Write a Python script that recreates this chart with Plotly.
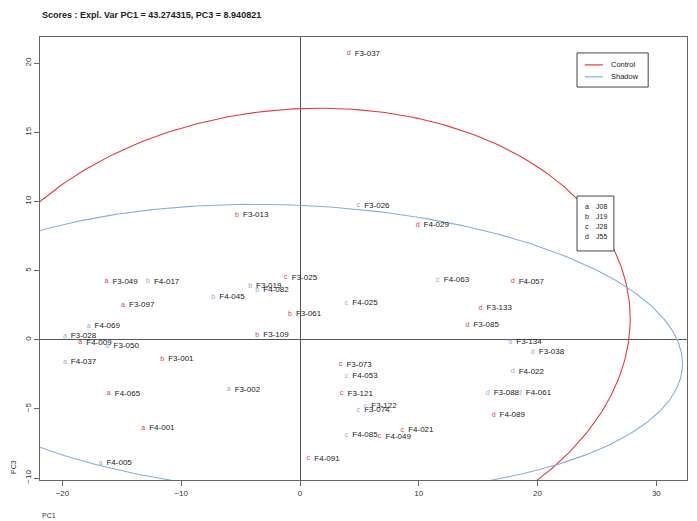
import numpy as np
import plotly.graph_objects as go

# ---- data ----
names = ["F3-037", "F3-013", "F3-026", "F4-029", "F3-049", "F4-017", "F3-097", "F4-045",
         "F3-019", "F4-082", "F3-025", "F3-061", "F3-109", "F4-069", "F3-028", "F4-009",
         "F3-050", "F4-037", "F3-001", "F3-002", "F4-065", "F4-001", "F4-005", "F4-091",
         "F4-063", "F4-057", "F4-025", "F3-133", "F3-085", "F3-134", "F3-038", "F4-022",
         "F3-088", "F4-061", "F4-089", "F3-073", "F4-053", "F3-121", "F3-122", "F3-074",
         "F4-085", "F4-049", "F4-021"]
pc1 = [4.1, -5.3, 4.9, 9.9, -16.3, -12.8, -14.9, -7.3,
       -4.2, -3.6, -1.2, -0.85, -3.6, -17.8, -19.8, -18.5,
       -16.2, -19.8, -11.6, -6.0, -16.1, -13.2, -16.8, 0.7,
       11.6, 17.9, 3.9, 15.2, 14.1, 17.7, 19.6, 17.9,
       15.8, 18.5, 16.3, 3.4, 3.9, 3.5, 5.5, 4.9,
       3.9, 6.7, 8.6]
pc3 = [20.7, 9.0, 9.7, 8.3, 4.2, 4.2, 2.5, 3.1,
       3.9, 3.6, 4.5, 1.85, 0.35, 1.0, 0.27, -0.2,
       -0.45, -1.6, -1.4, -3.6, -3.9, -6.4, -8.9, -8.6,
       4.3, 4.2, 2.65, 2.3, 1.06, -0.15, -0.9, -2.3,
       -3.85, -3.85, -5.45, -1.8, -2.6, -3.9, -4.8, -5.1,
       -6.9, -7.0, -6.55]
group = ["d", "b", "c", "d", "a", "b", "a", "b",
         "b", "b", "c", "b", "b", "a", "a", "a",
         "b", "a", "b", "a", "a", "a", "a", "c",
         "c", "d", "c", "d", "d", "d", "d", "d",
         "d", "d", "d", "c", "c", "c", "c", "c",
         "c", "c", "c"]
treatment = ["Control", "Control", "Shadow", "Control", "Control", "Shadow", "Control", "Shadow",
             "Shadow", "Shadow", "Control", "Control", "Control", "Shadow", "Shadow", "Control",
             "Shadow", "Shadow", "Control", "Shadow", "Control", "Control", "Shadow", "Control",
             "Shadow", "Control", "Shadow", "Control", "Control", "Shadow", "Shadow", "Shadow",
             "Shadow", "Shadow", "Control", "Control", "Shadow", "Control", "Shadow", "Shadow",
             "Shadow", "Control", "Control"]
group_codes = ["a", "b", "c", "d"]
group_names = ["J08", "J19", "J28", "J55"]
treatments = ["Control", "Shadow"]

# ellipse parameters (centre, variances, covariance) per treatment
ell_center = {"Control": (-0.4, 0.3), "Shadow": (-0.45, -0.65)}
ell_sxx = {"Control": 28.2 ** 2, "Shadow": 32.65 ** 2}
ell_syy = {"Control": 16.45 ** 2, "Shadow": 10.45 ** 2}
ell_sxy = {"Control": 34.5, "Shadow": -35.0}

title_text = "Scores : Expl. Var PC1 = 43.274315, PC3 = 8.940821"

# ---- style ----
colors = {"Control": "#e8383d", "Shadow": "#86aee0"}
FONT = "Liberation Sans, Arial, sans-serif"

fig = go.Figure()

t = np.linspace(0, 2 * np.pi, 400)
for tr in treatments:
    cx, cy = ell_center[tr]
    a = np.sqrt(ell_sxx[tr])
    b = ell_sxy[tr] / a
    c = np.sqrt(ell_syy[tr] - b ** 2)
    fig.add_trace(go.Scatter(
        x=cx + a * np.cos(t), y=cy + b * np.cos(t) + c * np.sin(t),
        mode="lines", line=dict(color=colors[tr], width=1.1),
        name=tr, hoverinfo="skip", showlegend=False))

# point labels
fig.add_trace(go.Scatter(
    x=pc1, y=pc3, mode="markers+text", text=names, textposition="middle right",
    marker=dict(size=8, color="rgba(0,0,0,0)"),
    textfont=dict(family=FONT, size=8, color="#222"), showlegend=False))

# letter markers
for tr in treatments:
    idx = [i for i, v in enumerate(treatment) if v == tr]
    fig.add_trace(go.Scatter(
        x=[pc1[i] for i in idx], y=[pc3[i] for i in idx],
        mode="text", text=[group[i] for i in idx], textposition="middle center",
        textfont=dict(family=FONT, size=7, color=colors[tr]), showlegend=False))

axis_common = dict(showgrid=False, showline=True, linecolor="#666", linewidth=1,
                   mirror=True, ticks="outside", ticklen=5, tickcolor="#666",
                   tickfont=dict(family=FONT, size=8, color="#333"), automargin=False,
                   zeroline=True, zerolinecolor="#555", zerolinewidth=1)

# manual legends (paper coordinates)
shapes = [
    dict(type="rect", xref="paper", yref="paper", x0=0.830, x1=0.940, y0=0.887, y1=0.964,
         line=dict(color="#444", width=1), fillcolor="white", layer="above"),
    dict(type="rect", xref="paper", yref="paper", x0=0.830, x1=0.887, y0=0.517, y1=0.641,
         line=dict(color="#444", width=1), fillcolor="white", layer="above"),
]
annotations = [
    dict(text="<b>" + title_text + "</b>", xref="paper", yref="paper",
         x=0, y=1, yshift=22, xanchor="left", yanchor="middle",
         showarrow=False, font=dict(family=FONT, size=9, color="#222")),
    dict(text="PC1", xref="paper", yref="paper", x=0, y=0, yshift=-35,
         xanchor="left", yanchor="middle", showarrow=False,
         font=dict(family=FONT, size=7, color="#333")),
    dict(text="PC3", xref="paper", yref="paper", x=0, y=0, xshift=-27, yshift=13,
         xanchor="center", yanchor="middle", textangle=-90, showarrow=False,
         font=dict(family=FONT, size=7, color="#333")),
]
leg_y = [0.937, 0.910]
for tr, yy in zip(treatments, leg_y):
    shapes.append(dict(type="line", xref="paper", yref="paper", x0=0.842, x1=0.870,
                       y0=yy, y1=yy, line=dict(color=colors[tr], width=1.2), layer="above"))
    annotations.append(dict(text=tr, xref="paper", yref="paper", x=0.879, y=yy,
                            xanchor="left", yanchor="middle", showarrow=False,
                            font=dict(family=FONT, size=7.5, color="#222")))
for k, (g, n) in enumerate(zip(group_codes, group_names)):
    yy = 0.617 - k * 0.0225
    annotations.append(dict(text=g, xref="paper", yref="paper", x=0.845, y=yy,
                            xanchor="center", yanchor="middle", showarrow=False,
                            font=dict(family=FONT, size=7, color="#222")))
    annotations.append(dict(text=n, xref="paper", yref="paper", x=0.857, y=yy,
                            xanchor="left", yanchor="middle", showarrow=False,
                            font=dict(family=FONT, size=7, color="#222")))

# the page body has an 8px default margin, so the figure is 8px smaller
fig.update_layout(
    width=689, height=513,
    paper_bgcolor="white", plot_bgcolor="white",
    margin=dict(l=32, r=10, t=29, b=41),
    xaxis=dict(range=[-21.89, 32.58], dtick=10, tick0=0, **axis_common),
    yaxis=dict(range=[-10.14, 21.9], dtick=5, tick0=0, tickangle=-90, **axis_common),
    showlegend=False,
    shapes=shapes,
    annotations=annotations,
)

fig.write_html("out.html")
